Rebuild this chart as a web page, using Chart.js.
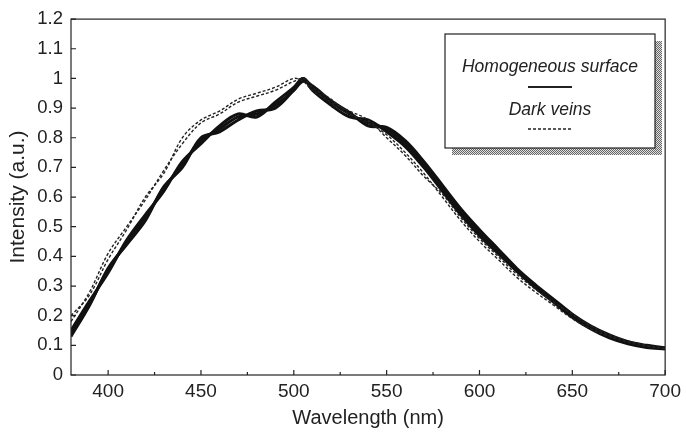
<!DOCTYPE html>
<html>
<head>
<meta charset="utf-8">
<script src="https://cdn.jsdelivr.net/npm/chart.js@4"></script>
<style>
  html, body { margin: 0; padding: 0; background: #fff; }
  #chart { display: block; }
</style>
</head>
<body>
<canvas id="chart" width="686" height="436"></canvas>
<script>
// wavelength grid (nm)
var wavelengths = [380,390,400,410,420,430,440,450,460,470,480,490,500,505,510,520,530,540,550,560,570,580,590,600,610,620,630,640,650,660,670,680,690,700];

// homogeneous surface spectra (solid)
var homogA = [0.14,0.24,0.355,0.445,0.53,0.63,0.71,0.79,0.83,0.87,0.88,0.91,0.96,1.0,0.97,0.92,0.88,0.85,0.83,0.78,0.71,0.63,0.55,0.48,0.42,0.355,0.30,0.25,0.20,0.16,0.13,0.11,0.097,0.09];
var homogB = [0.15,0.25,0.345,0.455,0.54,0.62,0.72,0.78,0.84,0.88,0.87,0.92,0.97,1.0,0.96,0.91,0.87,0.86,0.82,0.77,0.70,0.62,0.54,0.47,0.41,0.35,0.295,0.245,0.195,0.155,0.125,0.105,0.093,0.088];
var homogC = [0.13,0.235,0.36,0.44,0.52,0.635,0.70,0.80,0.82,0.86,0.89,0.90,0.96,0.99,0.975,0.925,0.885,0.84,0.835,0.79,0.72,0.64,0.56,0.49,0.425,0.36,0.305,0.255,0.205,0.165,0.135,0.112,0.10,0.092];

// dark veins spectra (dashed)
var veinsA = [0.18,0.28,0.41,0.50,0.59,0.69,0.78,0.85,0.88,0.92,0.94,0.96,0.99,1.0,0.97,0.93,0.88,0.85,0.81,0.75,0.68,0.60,0.52,0.45,0.39,0.33,0.28,0.235,0.19,0.155,0.13,0.11,0.097,0.09];
var veinsB = [0.20,0.27,0.39,0.49,0.60,0.68,0.80,0.86,0.89,0.93,0.95,0.97,1.0,0.99,0.96,0.92,0.89,0.86,0.80,0.74,0.67,0.61,0.53,0.46,0.40,0.34,0.29,0.245,0.205,0.165,0.135,0.115,0.10,0.088];

var xMajorTicks = [400,450,500,550,600,650,700];
var xMinorTicks = [425,475,525,575,625,675];
var legendLabels = ['Homogeneous surface', 'Dark veins'];

var FONT = "'Liberation Sans', Arial, sans-serif";
var INK = '#222';

function pts(ys) {
  return wavelengths.map(function(x, i) { return { x: x, y: ys[i] }; });
}

function solid(ys) {
  return { data: pts(ys), borderColor: '#111', borderWidth: 3, pointRadius: 0, tension: 0.35, fill: false };
}
function dashed(ys) {
  return { data: pts(ys), borderColor: '#222', borderWidth: 1.4, borderDash: [3, 2], pointRadius: 0, tension: 0.35, fill: false };
}

// box frame, inward ticks and the legend panel
var framePlugin = {
  id: 'frame',
  afterDraw: function(chart) {
    var ctx = chart.ctx, a = chart.chartArea;
    var xs = chart.scales.x, ys = chart.scales.y;
    ctx.save();
    ctx.strokeStyle = INK;
    ctx.lineWidth = 1.2;
    ctx.strokeRect(a.left, a.top, a.right - a.left, a.bottom - a.top);
    ctx.beginPath();
    for (var v = 0; v <= 12; v++) {
      var py = ys.getPixelForValue(v / 10);
      ctx.moveTo(a.left, py); ctx.lineTo(a.left + 5, py);
    }
    xMajorTicks.forEach(function(t) {
      var px = xs.getPixelForValue(t);
      ctx.moveTo(px, a.bottom); ctx.lineTo(px, a.bottom - 5);
    });
    xMinorTicks.forEach(function(t) {
      var px = xs.getPixelForValue(t);
      ctx.moveTo(px, a.bottom); ctx.lineTo(px, a.bottom - 3);
    });
    ctx.stroke();

    // legend
    var bx = 445, by = 34, bw = 210, bh = 114;
    var pc = document.createElement('canvas');
    pc.width = 2; pc.height = 2;
    var pctx = pc.getContext('2d');
    pctx.fillStyle = '#e0e0e0'; pctx.fillRect(0, 0, 2, 2);
    pctx.fillStyle = '#666'; pctx.fillRect(0, 0, 1, 1); pctx.fillRect(1, 1, 1, 1);
    ctx.fillStyle = ctx.createPattern(pc, 'repeat');
    ctx.fillRect(bx + 7, by + 7, bw, bh);
    ctx.fillStyle = '#fff';
    ctx.fillRect(bx, by, bw, bh);
    ctx.strokeStyle = INK;
    ctx.lineWidth = 1.2;
    ctx.strokeRect(bx, by, bw, bh);

    var cx = bx + bw / 2;
    ctx.fillStyle = INK;
    ctx.font = 'italic 17.5px ' + FONT;
    ctx.textAlign = 'center';
    ctx.textBaseline = 'middle';
    ctx.fillText(legendLabels[0], cx, by + 33);
    ctx.fillText(legendLabels[1], cx, by + 76);

    ctx.beginPath();
    ctx.lineWidth = 2;
    ctx.moveTo(cx - 22, by + 53); ctx.lineTo(cx + 22, by + 53);
    ctx.stroke();
    ctx.beginPath();
    ctx.lineWidth = 1.3;
    ctx.setLineDash([3, 2]);
    ctx.moveTo(cx - 22, by + 95); ctx.lineTo(cx + 22, by + 95);
    ctx.stroke();
    ctx.restore();
  }
};

var ctx = document.getElementById('chart').getContext('2d');
var chart = new Chart(ctx, {
  type: 'line',
  data: {
    datasets: [
      dashed(veinsA), dashed(veinsB),
      solid(homogA), solid(homogB), solid(homogC)
    ]
  },
  options: {
    responsive: false,
    animation: false,
    layout: { padding: { top: 18, right: 16, left: 0, bottom: 0 } },
    plugins: { legend: { display: false }, tooltip: { enabled: false } },
    scales: {
      x: {
        type: 'linear',
        min: 380,
        max: 700,
        grid: { display: false, drawTicks: false },
        border: { display: false },
        afterBuildTicks: function(scale) {
          scale.ticks = xMajorTicks.map(function(v) { return { value: v }; });
        },
        afterFit: function(scale) { scale.height = 61; },
        ticks: { color: INK, font: { family: FONT, size: 19 }, padding: 5, maxRotation: 0 },
        title: { display: true, text: 'Wavelength (nm)', color: INK, font: { family: FONT, size: 20 }, padding: { top: 0, bottom: 6 } }
      },
      y: {
        min: 0,
        max: 1.2,
        grid: { display: false, drawTicks: false },
        border: { display: false },
        afterFit: function(scale) { scale.width = 71; },
        ticks: {
          stepSize: 0.1,
          color: INK,
          font: { family: FONT, size: 18.5 },
          padding: 8,
          callback: function(v) { return String(Math.round(v * 10) / 10); }
        },
        title: { display: true, text: 'Intensity (a.u.)', color: INK, font: { family: FONT, size: 21 }, padding: { top: 6, bottom: 0 } }
      }
    }
  },
  plugins: [framePlugin]
});
</script>
</body>
</html>
